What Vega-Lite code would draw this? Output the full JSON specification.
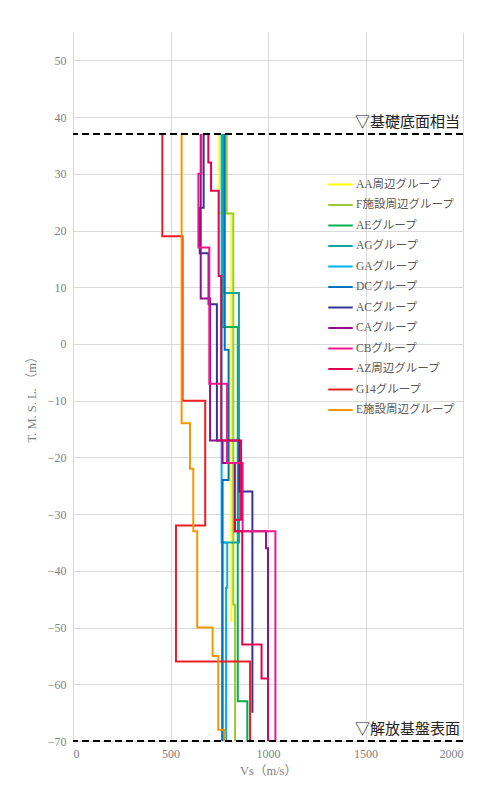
{
 "$schema": "https://vega.github.io/schema/vega-lite/v6.json",
 "width": 390, "height": 709,
 "autosize": {"type": "none"},
 "padding": {"left": 73, "top": 32, "right": 21, "bottom": 55},
 "background": "white",
 "config": {"view": {"stroke": null}, "font": "Liberation Serif, Noto Sans CJK JP"},
 "datasets": {
  "profiles": [
   {"g":"AA周辺グループ","i":1,"vs":750,"el":37},{"g":"AA周辺グループ","i":2,"vs":750,"el":23},{"g":"AA周辺グループ","i":3,"vs":812,"el":23},{"g":"AA周辺グループ","i":4,"vs":812,"el":-49},
   {"g":"F施設周辺グループ","i":1,"vs":788,"el":37},{"g":"F施設周辺グループ","i":2,"vs":788,"el":23},{"g":"F施設周辺グループ","i":3,"vs":822,"el":23},{"g":"F施設周辺グループ","i":4,"vs":822,"el":-46},{"g":"F施設周辺グループ","i":5,"vs":831,"el":-46},{"g":"F施設周辺グループ","i":6,"vs":831,"el":-70},
   {"g":"AEグループ","i":1,"vs":768,"el":37},{"g":"AEグループ","i":2,"vs":768,"el":3},{"g":"AEグループ","i":3,"vs":845,"el":3},{"g":"AEグループ","i":4,"vs":845,"el":-63},{"g":"AEグループ","i":5,"vs":894,"el":-63},{"g":"AEグループ","i":6,"vs":894,"el":-70},
   {"g":"AGグループ","i":1,"vs":775,"el":37},{"g":"AGグループ","i":2,"vs":775,"el":9},{"g":"AGグループ","i":3,"vs":851,"el":9},{"g":"AGグループ","i":4,"vs":851,"el":-35},{"g":"AGグループ","i":5,"vs":765,"el":-35},{"g":"AGグループ","i":6,"vs":765,"el":-70},
   {"g":"GAグループ","i":1,"vs":762,"el":37},{"g":"GAグループ","i":2,"vs":762,"el":-35},{"g":"GAグループ","i":3,"vs":791,"el":-35},{"g":"GAグループ","i":4,"vs":791,"el":-43},{"g":"GAグループ","i":5,"vs":785,"el":-43},{"g":"GAグループ","i":6,"vs":785,"el":-70},
   {"g":"DCグループ","i":1,"vs":778,"el":37},{"g":"DCグループ","i":2,"vs":778,"el":-1},{"g":"DCグループ","i":3,"vs":798,"el":-1},{"g":"DCグループ","i":4,"vs":798,"el":-24},{"g":"DCグループ","i":5,"vs":767,"el":-24},{"g":"DCグループ","i":6,"vs":767,"el":-70},
   {"g":"ACグループ","i":1,"vs":670,"el":37},{"g":"ACグループ","i":2,"vs":670,"el":24},{"g":"ACグループ","i":3,"vs":650,"el":24},{"g":"ACグループ","i":4,"vs":650,"el":16},{"g":"ACグループ","i":5,"vs":695,"el":16},{"g":"ACグループ","i":6,"vs":695,"el":7},{"g":"ACグループ","i":7,"vs":738,"el":7},{"g":"ACグループ","i":8,"vs":738,"el":-17},{"g":"ACグループ","i":9,"vs":853,"el":-17},{"g":"ACグループ","i":10,"vs":853,"el":-26},{"g":"ACグループ","i":11,"vs":920,"el":-26},{"g":"ACグループ","i":12,"vs":920,"el":-65},
   {"g":"CAグループ","i":1,"vs":655,"el":37},{"g":"CAグループ","i":2,"vs":655,"el":8},{"g":"CAグループ","i":3,"vs":703,"el":8},{"g":"CAグループ","i":4,"vs":703,"el":-17},{"g":"CAグループ","i":5,"vs":767,"el":-17},{"g":"CAグループ","i":6,"vs":767,"el":-21},{"g":"CAグループ","i":7,"vs":830,"el":-21},{"g":"CAグループ","i":8,"vs":830,"el":-33},{"g":"CAグループ","i":9,"vs":990,"el":-33},{"g":"CAグループ","i":10,"vs":990,"el":-36},{"g":"CAグループ","i":11,"vs":1000,"el":-36},{"g":"CAグループ","i":12,"vs":1000,"el":-59},
   {"g":"CBグループ","i":1,"vs":658,"el":37},{"g":"CBグループ","i":2,"vs":658,"el":30},{"g":"CBグループ","i":3,"vs":643,"el":30},{"g":"CBグループ","i":4,"vs":643,"el":17},{"g":"CBグループ","i":5,"vs":699,"el":17},{"g":"CBグループ","i":6,"vs":699,"el":-7},{"g":"CBグループ","i":7,"vs":790,"el":-7},{"g":"CBグループ","i":8,"vs":790,"el":-21},{"g":"CBグループ","i":9,"vs":870,"el":-21},{"g":"CBグループ","i":10,"vs":870,"el":-33},{"g":"CBグループ","i":11,"vs":1038,"el":-33},{"g":"CBグループ","i":12,"vs":1038,"el":-70},
   {"g":"AZ周辺グループ","i":1,"vs":694,"el":37},{"g":"AZ周辺グループ","i":2,"vs":694,"el":32},{"g":"AZ周辺グループ","i":3,"vs":708,"el":32},{"g":"AZ周辺グループ","i":4,"vs":708,"el":27},{"g":"AZ周辺グループ","i":5,"vs":747,"el":27},{"g":"AZ周辺グループ","i":6,"vs":747,"el":12},{"g":"AZ周辺グループ","i":7,"vs":760,"el":12},{"g":"AZ周辺グループ","i":8,"vs":760,"el":-17},{"g":"AZ周辺グループ","i":9,"vs":862,"el":-17},{"g":"AZ周辺グループ","i":10,"vs":862,"el":-31},{"g":"AZ周辺グループ","i":11,"vs":830,"el":-31},{"g":"AZ周辺グループ","i":12,"vs":830,"el":-33},{"g":"AZ周辺グループ","i":13,"vs":868,"el":-33},{"g":"AZ周辺グループ","i":14,"vs":868,"el":-53},{"g":"AZ周辺グループ","i":15,"vs":967,"el":-53},{"g":"AZ周辺グループ","i":16,"vs":967,"el":-59},{"g":"AZ周辺グループ","i":17,"vs":1000,"el":-59},{"g":"AZ周辺グループ","i":18,"vs":1000,"el":-70},
   {"g":"G14グループ","i":1,"vs":458,"el":37},{"g":"G14グループ","i":2,"vs":458,"el":19},{"g":"G14グループ","i":3,"vs":562,"el":19},{"g":"G14グループ","i":4,"vs":562,"el":-10},{"g":"G14グループ","i":5,"vs":678,"el":-10},{"g":"G14グループ","i":6,"vs":678,"el":-32},{"g":"G14グループ","i":7,"vs":528,"el":-32},{"g":"G14グループ","i":8,"vs":528,"el":-56},{"g":"G14グループ","i":9,"vs":908,"el":-56},{"g":"G14グループ","i":10,"vs":908,"el":-70},
   {"g":"E施設周辺グループ","i":1,"vs":557,"el":37},{"g":"E施設周辺グループ","i":2,"vs":557,"el":-14},{"g":"E施設周辺グループ","i":3,"vs":600,"el":-14},{"g":"E施設周辺グループ","i":4,"vs":600,"el":-22},{"g":"E施設周辺グループ","i":5,"vs":617,"el":-22},{"g":"E施設周辺グループ","i":6,"vs":617,"el":-33},{"g":"E施設周辺グループ","i":7,"vs":637,"el":-33},{"g":"E施設周辺グループ","i":8,"vs":637,"el":-50},{"g":"E施設周辺グループ","i":9,"vs":716,"el":-50},{"g":"E施設周辺グループ","i":10,"vs":716,"el":-55},{"g":"E施設周辺グループ","i":11,"vs":745,"el":-55},{"g":"E施設周辺グループ","i":12,"vs":745,"el":-68},{"g":"E施設周辺グループ","i":13,"vs":779,"el":-68},{"g":"E施設周辺グループ","i":14,"vs":779,"el":-70}
  ],
  "refs": [
   {"vs": 2000, "el": 37, "label": "▽基礎底面相当"},
   {"vs": 2000, "el": -70, "label": "▽解放基盤表面"}
  ]
 },
 "layer": [
  {
   "data": {"name": "profiles"},
   "mark": {"type": "line", "strokeWidth": 2},
   "encoding": {
    "x": {"field": "vs", "type": "quantitative", "scale": {"domain": [0, 2000], "nice": false},
     "axis": {"title": "Vs（m/s）", "values": [0, 500, 1000, 1500, 2000], "format": "d", "grid": true, "gridColor": "#D9D9D9", "domain": false, "ticks": false,
      "labelColor": "#7F7F7F", "labelFontSize": 12, "labelPadding": 7, "titleColor": "#7F7F7F", "titleFontSize": 12.5, "titleFontWeight": "normal", "titlePadding": 5}},
    "y": {"field": "el", "type": "quantitative", "scale": {"domain": [-70, 55], "nice": false, "zero": false},
     "axis": {"title": "T. M. S. L. （m）", "values": [-70,-65,-60,-55,-50,-45,-40,-35,-30,-25,-20,-15,-10,-5,0,5,10,15,20,25,30,35,40,45,50,55], "grid": true, "gridColor": "#D9D9D9", "domain": false, "ticks": false,
      "labelColor": "#7F7F7F", "labelFontSize": 12, "labelPadding": 7, "titleColor": "#7F7F7F", "titleFontSize": 12.5, "titleFontWeight": "normal", "titlePadding": 9, "titleY": 364}},
    "order": {"field": "i", "type": "quantitative"},
    "color": {"field": "g", "type": "nominal",
     "scale": {"domain": ["AA周辺グループ","F施設周辺グループ","AEグループ","AGグループ","GAグループ","DCグループ","ACグループ","CAグループ","CBグループ","AZ周辺グループ","G14グループ","E施設周辺グループ"],
      "range": ["#FFFF00","#99CC33","#00B050","#12A59A","#00B0F0","#0070C0","#333399","#930E8E","#F0168C","#E5004F","#EE1C25","#F39800"]},
     "legend": {"orient": "none", "legendX": 254, "legendY": 139, "title": null, "symbolType": "stroke", "symbolStrokeWidth": 2, "symbolSize": 600,
      "labelFontSize": 11.5, "labelColor": "#595959", "labelFont": "Liberation Serif, Noto Sans CJK JP", "rowPadding": 1.5, "labelOffset": 2}}
   }
  },
  {
   "data": {"name": "refs"},
   "mark": {"type": "rule", "strokeDash": [7, 4], "strokeWidth": 2, "color": "#000000"},
   "encoding": {"y": {"field": "el", "type": "quantitative"}}
  },
  {
   "data": {"name": "refs"},
   "mark": {"type": "text", "align": "right", "baseline": "bottom", "dx": -3, "dy": -4, "fontSize": 15, "font": "Noto Sans CJK JP", "color": "#222222"},
   "encoding": {"x": {"field": "vs", "type": "quantitative"}, "y": {"field": "el", "type": "quantitative"}, "text": {"field": "label"}}
  }
 ]
}
